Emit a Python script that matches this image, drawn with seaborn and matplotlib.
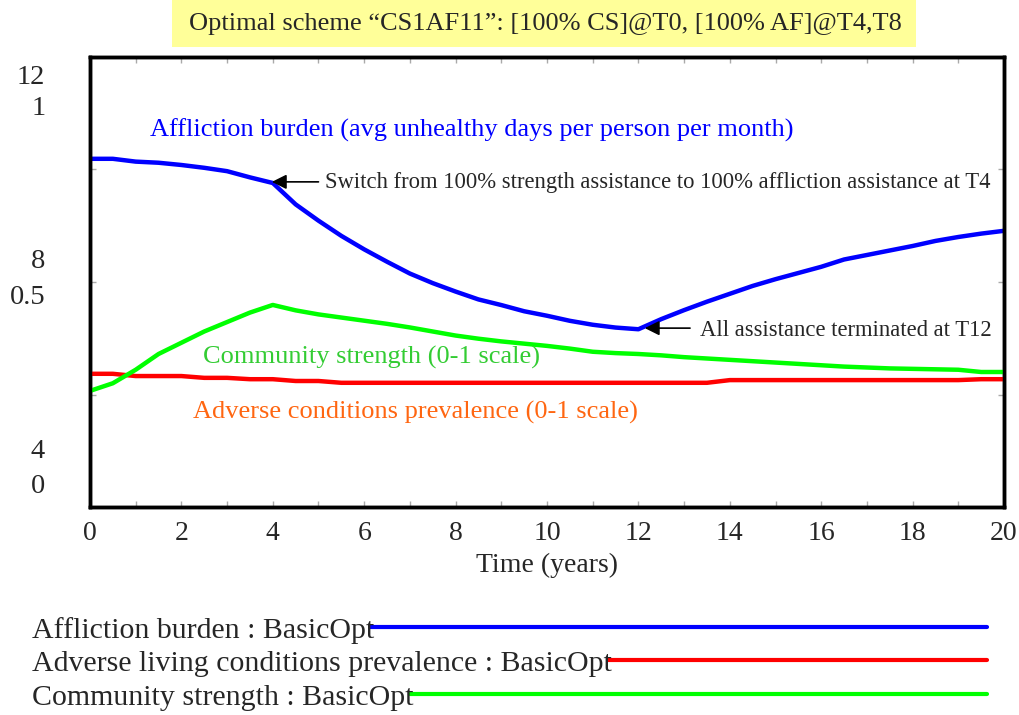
import numpy as np
import pandas as pd
import matplotlib
matplotlib.use('Agg')
import matplotlib.pyplot as plt
from matplotlib.patches import Rectangle
from matplotlib.lines import Line2D
import seaborn as sns

# simulated run "BasicOpt", sampled every half year
time = [0, 0.5, 1, 1.5, 2, 2.5, 3, 3.5, 4, 4.5, 5, 5.5, 6, 6.5, 7, 7.5, 8, 8.5, 9, 9.5,
        10, 10.5, 11, 11.5, 12, 12.5, 13, 13.5, 14, 14.5, 15, 15.5, 16, 16.5, 17, 17.5,
        18, 18.5, 19, 19.5, 20]
affliction = [10.19, 10.19, 10.14, 10.12, 10.08, 10.03, 9.97, 9.86, 9.76, 9.38, 9.09, 8.82,
              8.58, 8.36, 8.15, 7.98, 7.83, 7.69, 7.59, 7.48, 7.40, 7.31, 7.24, 7.19, 7.16,
              7.34, 7.50, 7.65, 7.79, 7.93, 8.05, 8.16, 8.27, 8.40, 8.48, 8.56, 8.64, 8.73,
              8.80, 8.86, 8.91]
adverse = [0.296, 0.296, 0.291, 0.291, 0.291, 0.287, 0.287, 0.284, 0.284, 0.280, 0.280, 0.276,
           0.276, 0.276, 0.276, 0.276, 0.276, 0.276, 0.276, 0.276, 0.276, 0.276, 0.276, 0.276,
           0.276, 0.276, 0.276, 0.276, 0.282, 0.282, 0.282, 0.282, 0.282, 0.282, 0.282, 0.282,
           0.282, 0.282, 0.282, 0.284, 0.284]
community = [0.258, 0.275, 0.305, 0.340, 0.365, 0.390, 0.411, 0.432, 0.449, 0.437, 0.428, 0.421,
             0.414, 0.407, 0.399, 0.390, 0.381, 0.374, 0.368, 0.363, 0.358, 0.352, 0.345, 0.342,
             0.340, 0.337, 0.333, 0.330, 0.327, 0.324, 0.321, 0.318, 0.315, 0.312, 0.310, 0.308,
             0.307, 0.306, 0.305, 0.300, 0.300]

legend_names = ['Affliction burden : BasicOpt',
                'Adverse living conditions prevalence : BasicOpt',
                'Community strength : BasicOpt']
title = 'Optimal scheme \u201cCS1AF11\u201d: [100% CS]@T0, [100% AF]@T4,T8'

df = pd.DataFrame({'time': time, 'affliction': affliction,
                   'adverse': adverse, 'community': community})

sns.set_style('ticks')
plt.rcParams['font.family'] = ['Liberation Serif', 'DejaVu Serif']

BLUE = '#0000ff'
RED = '#ff0000'
GREEN = '#00ff00'

fig = plt.figure(figsize=(10.19, 7.15), dpi=100)
ax = fig.add_axes([0.0883, 0.2909, 0.8970, 0.6294])
ax2 = ax.twinx()

sns.lineplot(data=df, x='time', y='affliction', ax=ax, color=BLUE, lw=3.2)
sns.lineplot(data=df, x='time', y='adverse', ax=ax2, color=RED, lw=3.2)
sns.lineplot(data=df, x='time', y='community', ax=ax2, color=GREEN, lw=3.2)

ax.set_xlim(0, 20)
ax.set_ylim(4, 12)
ax2.set_ylim(0, 1)
ax.set_xlabel('Time (years)', fontsize=20, labelpad=5)
ax.set_ylabel('')
ax2.set_ylabel('')

ax.set_xticks(range(0, 21, 2))
ax.set_xticks(range(1, 21, 2), minor=True)
ax.tick_params(axis='x', which='both', direction='in', length=4, width=1, color='#aaaaaa',
               top=True, labelsize=20, pad=10)
ax.set_yticks([4, 6, 8, 10, 12])
ax.set_yticklabels([])
ax.tick_params(axis='y', direction='in', length=4, width=1, color='#aaaaaa', right=True)
ax2.set_yticks([])
for a in (ax, ax2):
    for s in a.spines.values():
        s.set_linewidth(2.5)
        s.set_color('black')

# stacked scale labels, Vensim style
ytr = ax.get_yaxis_transform()
for lab, yv in [('12', 11.64), ('1', 11.09), ('8', 8.36), ('0.5', 7.73), ('4', 4.98), ('0', 4.36)]:
    ax.text(-0.049, yv, lab, transform=ytr, ha='right', va='center', fontsize=20.5)

# curve labels
ax.text(1.31, 10.70, 'Affliction burden (avg unhealthy days per person per month)',
        color=BLUE, fontsize=19, va='center', ha='left')
ax2.text(2.47, 0.333, 'Community strength (0-1 scale)', color='#33cc33',
         fontsize=19, va='center', ha='left')
ax2.text(2.25, 0.209, 'Adverse conditions prevalence (0-1 scale)', color='#ff6611',
         fontsize=19, va='center', ha='left')

arrow = dict(arrowstyle='-|>', mutation_scale=22, color='black', lw=1.2, shrinkA=0, shrinkB=0)
ax.annotate('', xy=(3.98, 9.78), xytext=(5.0, 9.78), arrowprops=arrow)
ax.text(5.14, 9.76, 'Switch from 100% strength assistance to 100% affliction assistance at T4',
        fontsize=16.3, va='center', ha='left')
ax.annotate('', xy=(12.14, 7.18), xytext=(13.13, 7.18), arrowprops=arrow)
ax.text(13.35, 7.13, 'All assistance terminated at T12', fontsize=16.3, va='center', ha='left')

# yellow title box
fig.patches.append(Rectangle((172 / 1019, 1 - 47 / 715), 744 / 1019, 47 / 715,
                             transform=fig.transFigure, facecolor='#ffff99', edgecolor='none'))
fig.text(545 / 1019, 1 - 24 / 715, title, ha='center', va='center', fontsize=19)

# legend rows: text followed by a line
colors = [BLUE, RED, GREEN]
rows_y = [1 - 631 / 715, 1 - 664 / 715, 1 - 698 / 715]
fig.canvas.draw()
renderer = fig.canvas.get_renderer()
for name, c, yy in zip(legend_names, colors, rows_y):
    t = fig.text(32 / 1019, yy, name, ha='left', va='center', fontsize=21.5)
    bb = t.get_window_extent(renderer=renderer)
    x0 = (bb.x1 - 4) / fig.bbox.width
    fig.lines.append(Line2D([x0, 987 / 1019], [yy + 0.005, yy + 0.005], transform=fig.transFigure,
                            color=c, lw=3))

fig.savefig('out.png', dpi=100)
